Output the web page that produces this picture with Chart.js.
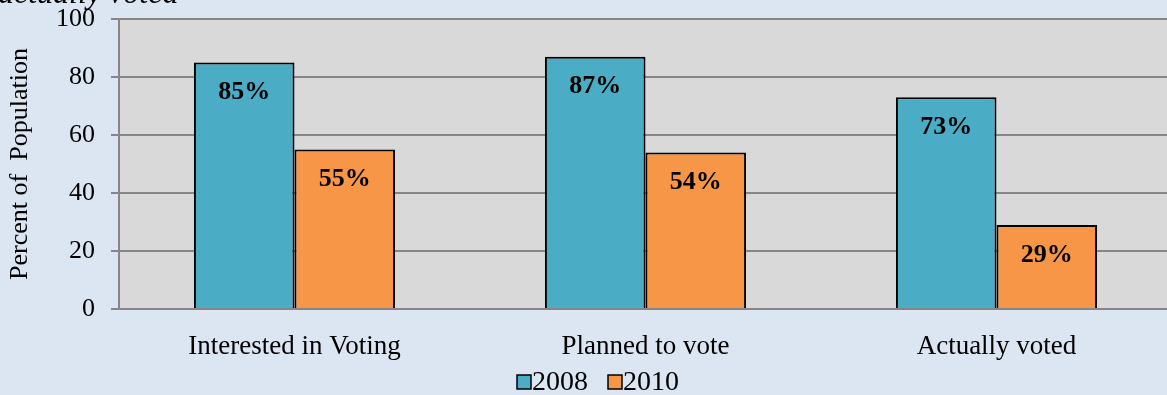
<!DOCTYPE html>
<html>
<head>
<meta charset="utf-8">
<script src="https://cdn.jsdelivr.net/npm/chart.js@4/dist/chart.umd.min.js"></script>
<style>
    html, body { margin: 0; padding: 0; background: #dce6f2; overflow: hidden; }
    #wrap { width: 1172px; height: 395px; position: relative; }
</style>
</head>
<body>
<div id="wrap"><canvas id="voteChart" width="1172" height="395"></canvas></div>
<script>
// Datos
const categories = ['Interested in Voting', 'Planned to vote', 'Actually voted'];
const values2008 = [85, 87, 73];
const values2010 = [55, 54, 29];
const yTicks = [0, 20, 40, 60, 80, 100];
const seriesNames = ['2008', '2010'];

const SERIF = '"Liberation Serif", "Times New Roman", serif';

// Fondo gris del área de trazado
const plotBackground = {
    id: 'plotBackground',
    beforeDraw(chart) {
        const { ctx, chartArea: a } = chart;
        ctx.save();
        ctx.fillStyle = '#d9d9d9';
        ctx.fillRect(a.left, a.top, a.right - a.left, a.bottom - a.top);
        ctx.restore();
    }
};

// Porcentajes dentro de cada barra
const barLabels = {
    id: 'barLabels',
    afterDatasetsDraw(chart) {
        const ctx = chart.ctx;
        ctx.save();
        ctx.font = 'bold 26px ' + SERIF;
        ctx.fillStyle = '#000';
        ctx.textAlign = 'center';
        ctx.textBaseline = 'middle';
        chart.data.datasets.forEach((ds, i) => {
            chart.getDatasetMeta(i).data.forEach((bar, j) => {
                ctx.fillText(ds.data[j] + '%', bar.x, bar.y + 30);
            });
        });
        ctx.restore();
    }
};

// Leyenda abajo y texto cortado arriba
const extras = {
    id: 'extras',
    afterDraw(chart) {
        const ctx = chart.ctx;
        ctx.save();
        ctx.font = 'italic 32px ' + SERIF;
        ctx.fillStyle = '#000';
        ctx.textBaseline = 'alphabetic';
        ctx.fillText('actually voted', -2, 3);

        ctx.font = '28px ' + SERIF;
        ctx.textBaseline = 'middle';
        const box = 14, gap = 1, spacing = 20;
        const items = chart.data.datasets.map(ds => ({
            label: ds.label, color: ds.backgroundColor,
            w: box + gap + ctx.measureText(ds.label).width
        }));
        const total = items.reduce((s, it) => s + it.w, 0) + spacing * (items.length - 1);
        let x = 598 - total / 2;
        const y = 382;
        items.forEach(it => {
            ctx.fillStyle = it.color;
            ctx.fillRect(x, y - box / 2, box, box);
            ctx.strokeStyle = '#000';
            ctx.lineWidth = 1.5;
            ctx.strokeRect(x, y - box / 2, box, box);
            ctx.fillStyle = '#000';
            ctx.textAlign = 'left';
            ctx.fillText(it.label, x + box + gap, y + 1);
            x += it.w + spacing;
        });
        ctx.restore();
    }
};

const ctx = document.getElementById('voteChart').getContext('2d');
const voteChart = new Chart(ctx, {
    type: 'bar',
    data: {
        labels: categories,
        datasets: [
            {
                label: seriesNames[0],
                data: values2008,
                backgroundColor: '#4bacc6',
                borderColor: '#000',
                borderWidth: 2
            },
            {
                label: seriesNames[1],
                data: values2010,
                backgroundColor: '#f79646',
                borderColor: '#000',
                borderWidth: 2
            }
        ]
    },
    options: {
        responsive: false,
        animation: false,
        devicePixelRatio: 1,
        layout: { padding: { top: 19, left: 0, right: 0, bottom: 0 } },
        datasets: {
            bar: { categoryPercentage: 0.573, barPercentage: 1 }
        },
        scales: {
            x: {
                grid: { display: false, drawTicks: false },
                border: { color: '#868686', width: 2 },
                ticks: {
                    color: '#000',
                    font: { family: SERIF, size: 27 },
                    padding: 22,
                    maxRotation: 0
                },
                afterFit(scale) { scale.height = 86; }
            },
            y: {
                min: 0,
                max: 100,
                afterBuildTicks(scale) { scale.ticks = yTicks.map(v => ({ value: v })); },
                grid: { color: '#868686', lineWidth: 2, tickLength: 8 },
                border: { color: '#868686', width: 2 },
                ticks: {
                    color: '#000',
                    font: { family: SERIF, size: 26 },
                    padding: 16
                },
                title: {
                    display: true,
                    text: 'Percent of  Population',
                    color: '#000',
                    font: { family: SERIF, size: 26 },
                    padding: { top: 5, bottom: 0 }
                },
                afterFit(scale) {
                    scale.width = 119;
                    scale.paddingTop = 0;
                    scale.paddingBottom = 0;
                }
            }
        },
        plugins: {
            legend: { display: false },
            tooltip: { enabled: false }
        }
    },
    plugins: [plotBackground, barLabels, extras]
});
</script>
</body>
</html>
